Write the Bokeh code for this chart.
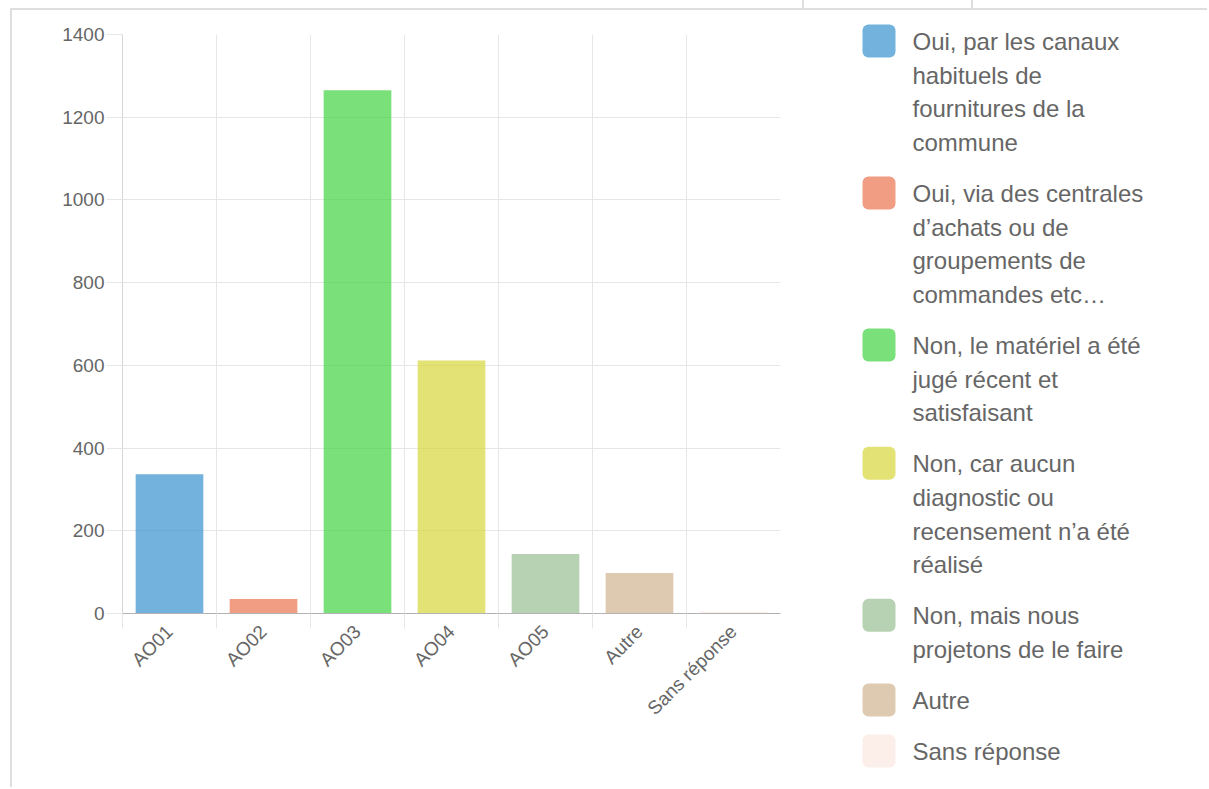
import math
from bokeh.plotting import figure
from bokeh.models import Range1d, FixedTicker, Spacer
from bokeh.layouts import row, column
from bokeh.embed import file_html
from bokeh.resources import INLINE
from bokeh.core.properties import value

# ---------------- data ----------------
categories = ["AO01", "AO02", "AO03", "AO04", "AO05", "Autre", "Sans réponse"]
counts = [337, 35, 1265, 612, 144, 98, 4]
colors = ["#3691ce", "#eb744e", "#41d341", "#d7d63a", "#98bf92", "#d0b390", "#fbe8e1"]
y_ticks = [0, 200, 400, 600, 800, 1000, 1200, 1400]
legend_labels = [
    "Oui, par les canaux\nhabituels de\nfournitures de la\ncommune",
    "Oui, via des centrales\nd\u2019achats ou de\ngroupements de\ncommandes etc\u2026",
    "Non, le matériel a été\njugé récent et\nsatisfaisant",
    "Non, car aucun\ndiagnostic ou\nrecensement n\u2019a été\nréalisé",
    "Non, mais nous\nprojetons de le faire",
    "Autre",
    "Sans réponse",
]

FONT = "Liberation Sans"
GRID = "#e6e6e6"
TXT = "#666666"
FRAME = "#dedede"
ALPHA = 0.7

# ---------------- chart ----------------
n = len(categories)
xs = [i + 1 for i in range(n)]

chart = figure(width=800, height=771, output_backend="svg", toolbar_location=None,
               x_range=Range1d(0.5, n + 0.5), y_range=Range1d(0, 1400),
               min_border_left=110, min_border_top=24, min_border_right=32,
               min_border_bottom=168)
chart.frame_align = False
chart.outline_line_color = None

chart.vbar(x=xs, top=counts, bottom=0, width=0.72, fill_color=colors,
           fill_alpha=ALPHA, line_color=None)

chart.xgrid.ticker = FixedTicker(ticks=[i + 0.5 for i in range(n)])
chart.ygrid.ticker = FixedTicker(ticks=y_ticks)
chart.xgrid.grid_line_color = GRID
chart.ygrid.grid_line_color = GRID

xa = chart.xaxis[0]
xa.ticker = FixedTicker(ticks=xs, minor_ticks=[i + 0.5 for i in range(n)])
xa.major_label_overrides = {x: c for x, c in zip(xs, categories)}
xa.major_label_orientation = math.pi / 4
xa.major_label_text_font = FONT
xa.major_label_text_font_size = "19px"
xa.major_label_text_color = TXT
xa.axis_line_color = "#b3b3b3"
xa.major_tick_line_color = None
xa.major_tick_out = 0
xa.major_tick_in = 0
xa.minor_tick_line_color = GRID
xa.minor_tick_out = 15
xa.minor_tick_in = 0
xa.major_label_standoff = 0

ya = chart.yaxis[0]
ya.ticker = FixedTicker(ticks=y_ticks)
ya.major_label_text_font = FONT
ya.major_label_text_font_size = "19px"
ya.major_label_text_color = TXT
ya.axis_line_color = "#d6d6d6"
ya.major_tick_line_color = GRID
ya.major_tick_out = 16
ya.major_tick_in = 0
ya.minor_tick_line_color = None
ya.major_label_standoff = 2

# ---------------- legend ----------------
LW, LH = 389, 771
legend = figure(width=LW, height=LH, output_backend="svg", toolbar_location=None,
                x_range=Range1d(0, LW), y_range=Range1d(LH, 0),
                x_axis_type=None, y_axis_type=None, min_border=0)
legend.frame_align = False
legend.outline_line_color = None
legend.grid.visible = False

LINE_H = 33.67
GAP = 17.33
sq_left, sq_size = 50, 33
txt_x = 100
y = 14
sq_tops, line_x, line_y, line_text = [], [], [], []
for lab in legend_labels:
    lines = lab.split("\n")
    sq_tops.append(y)
    for k, ln in enumerate(lines):
        line_x.append(txt_x)
        line_y.append(y + 17 + k * LINE_H)
        line_text.append(ln)
    y += len(lines) * LINE_H + GAP

legend.quad(left=sq_left, right=sq_left + sq_size, top=sq_tops,
            bottom=[t + sq_size for t in sq_tops], fill_color=colors,
            fill_alpha=ALPHA, line_color=None, border_radius=6)
legend.text(x=line_x, y=line_y, text=line_text, text_baseline="middle",
            text_align="left", text_font=value(FONT), text_font_size="24px",
            text_color=TXT)

# ---------------- page frame lines ----------------
def bar_line(w, h):
    return Spacer(width=w, height=h, styles={"background-color": FRAME})

page = column(
    row(Spacer(width=802, height=8), bar_line(2, 8), Spacer(width=167, height=8),
        bar_line(2, 8)),
    row(Spacer(width=10, height=2), bar_line(1197, 2)),
    row(Spacer(width=10, height=777), bar_line(2, 777), chart, legend),
)

open("out.html", "w").write(file_html(page, INLINE))
